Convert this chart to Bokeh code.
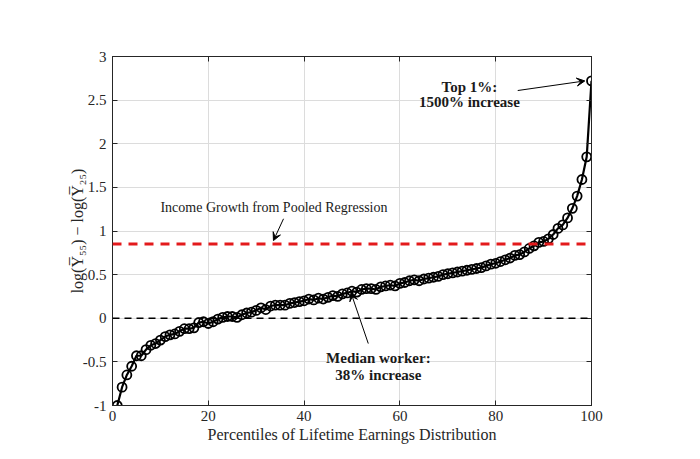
from bokeh.plotting import figure
from bokeh.models import (Range1d, FixedTicker, LinearAxis, Label, Arrow, VeeHead,
                          Span, CustomJSTickFormatter)
from bokeh.embed import file_html
from bokeh.resources import INLINE

# ---------------- data ----------------
percentiles = list(range(1, 101))
log_growth = [
    -1.00, -0.79, -0.65, -0.55, -0.43, -0.43, -0.36, -0.31, -0.29, -0.25,
    -0.21, -0.19, -0.18, -0.15, -0.12, -0.12, -0.11, -0.05, -0.04, -0.06,
    -0.04, -0.01, 0.01, 0.02, 0.02, 0.01, 0.04, 0.06, 0.07, 0.09,
    0.12, 0.10, 0.14, 0.15, 0.15, 0.15, 0.17, 0.18, 0.19, 0.20,
    0.22, 0.21, 0.23, 0.22, 0.24, 0.26, 0.25, 0.28, 0.29, 0.31,
    0.30, 0.33, 0.34, 0.34, 0.33, 0.36, 0.37, 0.38, 0.37, 0.40,
    0.41, 0.43, 0.44, 0.43, 0.45, 0.46, 0.47, 0.48, 0.50, 0.51,
    0.52, 0.53, 0.54, 0.55, 0.56, 0.57, 0.58, 0.60, 0.62, 0.63,
    0.65, 0.67, 0.69, 0.72, 0.73, 0.76, 0.80, 0.83, 0.87, 0.88,
    0.91, 0.96, 1.03, 1.07, 1.15, 1.26, 1.40, 1.59, 1.85, 2.72,
]
pooled_growth = 0.85
x_ticks = [0, 20, 40, 60, 80, 100]
y_ticks = [-1, -0.5, 0, 0.5, 1, 1.5, 2, 2.5, 3]
y_tick_labels = ["-1", "-0.5", "0", "0.5", "1", "1.5", "2", "2.5", "3"]
x_label = "Percentiles of Lifetime Earnings Distribution"
y_label = "log(Y\u0305\u2085\u2085) \u2212 log(Y\u0305\u2082\u2085)"
pooled_text = "Income Growth from Pooled Regression"
top_text = ["Top 1%:", "1500% increase"]
median_text = ["Median worker:", "38% increase"]

FONT = "Liberation Serif"
DARK = "#262626"

p = figure(width=692, height=451, output_backend="svg", toolbar_location=None,
           x_range=Range1d(0, 100), y_range=Range1d(-1, 3),
           min_border_left=112, min_border_right=101, min_border_top=56,
           min_border_bottom=46)
p.background_fill_color = "white"
p.border_fill_color = "white"
p.outline_line_color = DARK
p.outline_line_width = 1

for ax in (p.xaxis[0], p.yaxis[0]):
    ax.major_tick_in = 5
    ax.major_tick_out = 0
    ax.minor_tick_line_color = None
    ax.axis_line_color = DARK
    ax.major_tick_line_color = DARK
    ax.major_label_text_font = FONT
    ax.major_label_text_font_size = "15px"
    ax.major_label_text_color = DARK
    ax.axis_label_text_font = FONT
    ax.axis_label_text_font_size = "16px"
    ax.axis_label_text_font_style = "normal"
    ax.axis_label_text_color = DARK

p.xaxis.ticker = FixedTicker(ticks=x_ticks)
p.yaxis.ticker = FixedTicker(ticks=y_ticks)
p.yaxis.major_label_overrides = {t: s for t, s in zip(y_ticks, y_tick_labels)}
p.xaxis.axis_label = x_label
p.yaxis.axis_label = y_label
p.xaxis.major_label_standoff = 5
p.yaxis.major_label_standoff = 6
p.xaxis.axis_label_standoff = 2
p.yaxis.axis_label_standoff = -6

blank = CustomJSTickFormatter(code="return ''")
top_ax = LinearAxis(ticker=FixedTicker(ticks=x_ticks), formatter=blank,
                    major_tick_in=5, major_tick_out=0, minor_tick_line_color=None,
                    axis_line_color=DARK, major_tick_line_color=DARK)
right_ax = LinearAxis(ticker=FixedTicker(ticks=y_ticks), formatter=blank,
                      major_tick_in=5, major_tick_out=0, minor_tick_line_color=None,
                      axis_line_color=DARK, major_tick_line_color=DARK)
p.add_layout(top_ax, "above")
p.add_layout(right_ax, "right")

p.xgrid.ticker = FixedTicker(ticks=x_ticks)
p.ygrid.ticker = FixedTicker(ticks=y_ticks)
p.grid.grid_line_color = "#dcdcdc"
p.grid.grid_line_width = 1

# reference lines
p.add_layout(Span(location=0, dimension="width", line_color="black",
                  line_width=1.3, line_dash="7 5"))
p.add_layout(Span(location=pooled_growth, dimension="width", line_color="#e31a1c",
                  line_width=3, line_dash="9 7"))

# main series
p.line(percentiles, log_growth, line_color="black", line_width=2.2)
p.scatter(percentiles, log_growth, marker="circle", size=9, fill_color=None,
          line_color="black", line_width=1.8)

# annotations
p.add_layout(Label(x=10, y=1.27, text=pooled_text, text_font=FONT,
                   text_font_size="14px", text_color="#1a1a1a",
                   text_baseline="middle", text_align="left"))
p.add_layout(Arrow(x_start=35.7, y_start=1.14, x_end=33.6, y_end=0.89,
                   line_color="black", line_width=1,
                   end=VeeHead(size=8, fill_color="black", line_color="black")))

for i, t in enumerate(top_text):
    p.add_layout(Label(x=74.5, y=2.65 - i * 0.175, text=t, text_font=FONT,
                       text_font_size="15px", text_font_style="bold",
                       text_color="#1a1a1a", text_align="center",
                       text_baseline="middle"))
p.add_layout(Arrow(x_start=84.6, y_start=2.61, x_end=98.6, y_end=2.72,
                   line_color="black", line_width=1,
                   end=VeeHead(size=8, fill_color="black", line_color="black")))

for i, t in enumerate(median_text):
    p.add_layout(Label(x=55.5, y=-0.45 - i * 0.2, text=t, text_font=FONT,
                       text_font_size="15px", text_font_style="bold",
                       text_color="#1a1a1a", text_align="center",
                       text_baseline="middle"))
p.add_layout(Arrow(x_start=53.4, y_start=-0.29, x_end=49.8, y_end=0.29,
                   line_color="black", line_width=1,
                   end=VeeHead(size=8, fill_color="black", line_color="black")))

open("out.html", "w").write(file_html(p, INLINE))
